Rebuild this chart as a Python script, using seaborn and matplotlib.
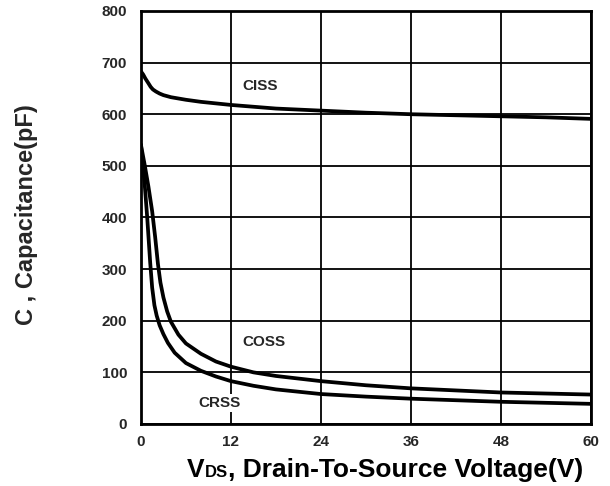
import matplotlib
matplotlib.use("Agg")
import matplotlib.pyplot as plt
import seaborn as sns
import pandas as pd
from matplotlib.offsetbox import TextArea, HPacker, AnnotationBbox

# Capacitance vs drain-source voltage
ciss_v = [0, 0.3, 0.6, 1.0, 1.3, 1.6, 2.0, 2.5, 3, 4, 6, 8, 12, 18, 24, 30, 36, 42, 48, 54, 60]
ciss_c = [683, 677, 669, 660, 653, 648, 644, 640, 637, 633, 628, 624, 618, 611, 607, 603, 600, 598, 596, 594, 591]

coss_v = [0, 0.5, 1.0, 1.5, 1.9, 2.27, 2.6, 3.0, 3.5, 4.0, 5.0, 6.0, 8.0, 10, 12, 15, 18, 24, 30, 36, 42, 48, 54, 60]
coss_c = [541, 502, 460, 412, 362, 310, 274, 245, 218, 198, 173, 156, 136, 121, 111, 100, 93, 83, 75, 69, 65, 61, 59, 57]

crss_v = [0, 0.25, 0.5, 0.84, 1.24, 1.5, 1.8, 2.1, 2.5, 3.0, 3.6, 4.5, 6.0, 8.0, 10, 12, 15, 18, 24, 30, 36, 42, 48, 54, 60]
crss_c = [541, 500, 465, 400, 312, 264, 230, 210, 191, 174, 157, 138, 118, 103, 92, 83, 74, 67, 58, 53, 49, 46, 43, 41, 39]

x_ticks = [0, 12, 24, 36, 48, 60]
y_ticks = [0, 100, 200, 300, 400, 500, 600, 700, 800]

series = {"CISS": (ciss_v, ciss_c), "COSS": (coss_v, coss_c), "CRSS": (crss_v, crss_c)}
frames = [pd.DataFrame({"V": v, "C": c, "kind": k}) for k, (v, c) in series.items()]
df = pd.concat(frames, ignore_index=True)

sns.set_style("white")
plt.rcParams["font.family"] = ["Liberation Sans", "DejaVu Sans"]
plt.rcParams["font.weight"] = "bold"

fig = plt.figure(figsize=(6.10, 4.86), dpi=100)
ax = fig.add_axes([0.231, 0.1276, 0.738, 0.8498])

for k in series:
    sns.lineplot(data=df[df["kind"] == k], x="V", y="C", ax=ax, color="black",
                 linewidth=2.7, sort=False, estimator=None, legend=False)

ax.set_xlim(0, 60)
ax.set_ylim(0, 800)
ax.set_xticks(x_ticks)
ax.set_yticks(y_ticks)
ax.tick_params(axis="both", length=0, labelsize=11)
ax.tick_params(axis="y", pad=10)
ax.tick_params(axis="x", pad=8)
for lab in ax.get_xticklabels() + ax.get_yticklabels():
    lab.set_fontweight("bold")
ax.grid(True, color="black", linewidth=1.3)
for sp in ax.spines.values():
    sp.set_color("black")
    sp.set_linewidth(2.0)
ax.set_xlabel("")
ax.set_ylabel("")

ax.text(15.9, 655, "CISS", fontsize=11, fontweight="bold", ha="center", va="center")
ax.text(16.4, 159, "COSS", fontsize=11, fontweight="bold", ha="center", va="center")
ax.text(10.5, 41, "CRSS", fontsize=11, fontweight="bold", ha="center", va="center",
        bbox=dict(facecolor="white", edgecolor="none", pad=1.5))

# x-axis title with small "DS" on the baseline
big = dict(fontsize=19, fontweight="bold", color="black")
small = dict(fontsize=12, fontweight="bold", color="black")
pack = HPacker(children=[TextArea("V", textprops=big),
                         TextArea("DS", textprops=small),
                         TextArea(", Drain-To-Source Voltage(V)", textprops=big)],
               align="baseline", pad=0, sep=0)
ab = AnnotationBbox(pack, (385, 16), xycoords="figure pixels", box_alignment=(0.5, 0.5),
                    frameon=False)
fig.add_artist(ab)

fig.text(27 / 610, 1 - 215 / 486, "C , Capacitance(pF)", rotation=90, fontsize=17,
         fontweight="bold", ha="center", va="center")

fig.savefig("out.png", dpi=100)
